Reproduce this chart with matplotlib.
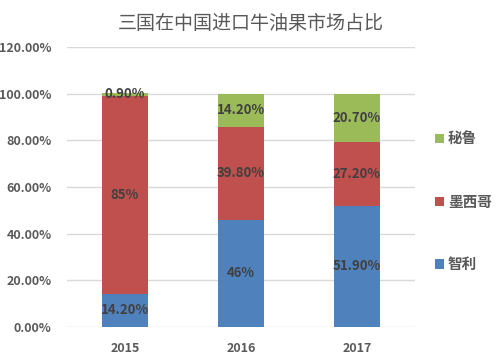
import matplotlib
matplotlib.use("Agg")
import matplotlib.pyplot as plt
import numpy as np

plt.rcParams['font.family'] = ['Noto Sans CJK SC', 'DejaVu Sans']

# data
years = ['2015', '2016', '2017']
series_names = ['智利', '墨西哥', '秘鲁']
chile = [14.2, 46.0, 51.9]
mexico = [85.0, 39.8, 27.2]
peru = [0.9, 14.2, 20.7]
chile_labels = ['14.20%', '46%', '51.90%']
mexico_labels = ['85%', '39.80%', '27.20%']
peru_labels = ['0.90%', '14.20%', '20.70%']
y_ticks = [0, 20, 40, 60, 80, 100, 120]

colors = ['#4F81BD', '#C0504D', '#9BBB59']
label_color = '#404040'
tick_color = '#595959'

fig = plt.figure(figsize=(5.01, 3.61), dpi=100)
ax = fig.add_axes([0.1337, 0.0942, 0.6943, 0.7756])

x = np.arange(len(years))
width = 0.4
bottom = np.zeros(len(years))
handles = []
for vals, labs, c, name in zip([chile, mexico, peru],
                               [chile_labels, mexico_labels, peru_labels],
                               colors, series_names):
    bars = ax.bar(x, vals, width, bottom=bottom, color=c, label=name, zorder=3)
    handles.append(bars)
    for xi, b, v, lab in zip(x, bottom, vals, labs):
        ax.text(xi, b + v / 2, lab, ha='center', va='center', fontsize=9.5,
                fontweight='bold', color=label_color, zorder=4)
    bottom = bottom + np.array(vals)

ax.set_xlim(-0.5, 2.5)
ax.set_ylim(0, 120)
ax.set_yticks(y_ticks)
ax.set_yticklabels(['%.2f%%' % t for t in y_ticks])
ax.set_xticks(x)
ax.set_xticklabels(years)
for lab in ax.get_xticklabels() + ax.get_yticklabels():
    lab.set_fontweight('bold')
    lab.set_color(tick_color)
    lab.set_fontsize(9)
ax.tick_params(axis='y', length=0, pad=11)
ax.tick_params(axis='x', length=0, pad=11)
ax.grid(axis='y', color='#D9D9D9', linewidth=1, zorder=0)
for s in ax.spines.values():
    s.set_visible(False)

fig.text(0.5, 0.935, '三国在中国进口牛油果市场占比', ha='center', va='center',
         fontsize=13.7, fontweight='medium', color=tick_color)

leg = ax.legend(handles[::-1], series_names[::-1], loc='center left',
                bbox_to_anchor=(1.02, 0.448), frameon=False,
                handlelength=0.6, handleheight=0.6, handletextpad=0.3,
                labelspacing=3.2, prop={'weight': 'bold', 'size': 10.5})
for t in leg.get_texts():
    t.set_color(tick_color)

fig.savefig('out.png', dpi=100)
